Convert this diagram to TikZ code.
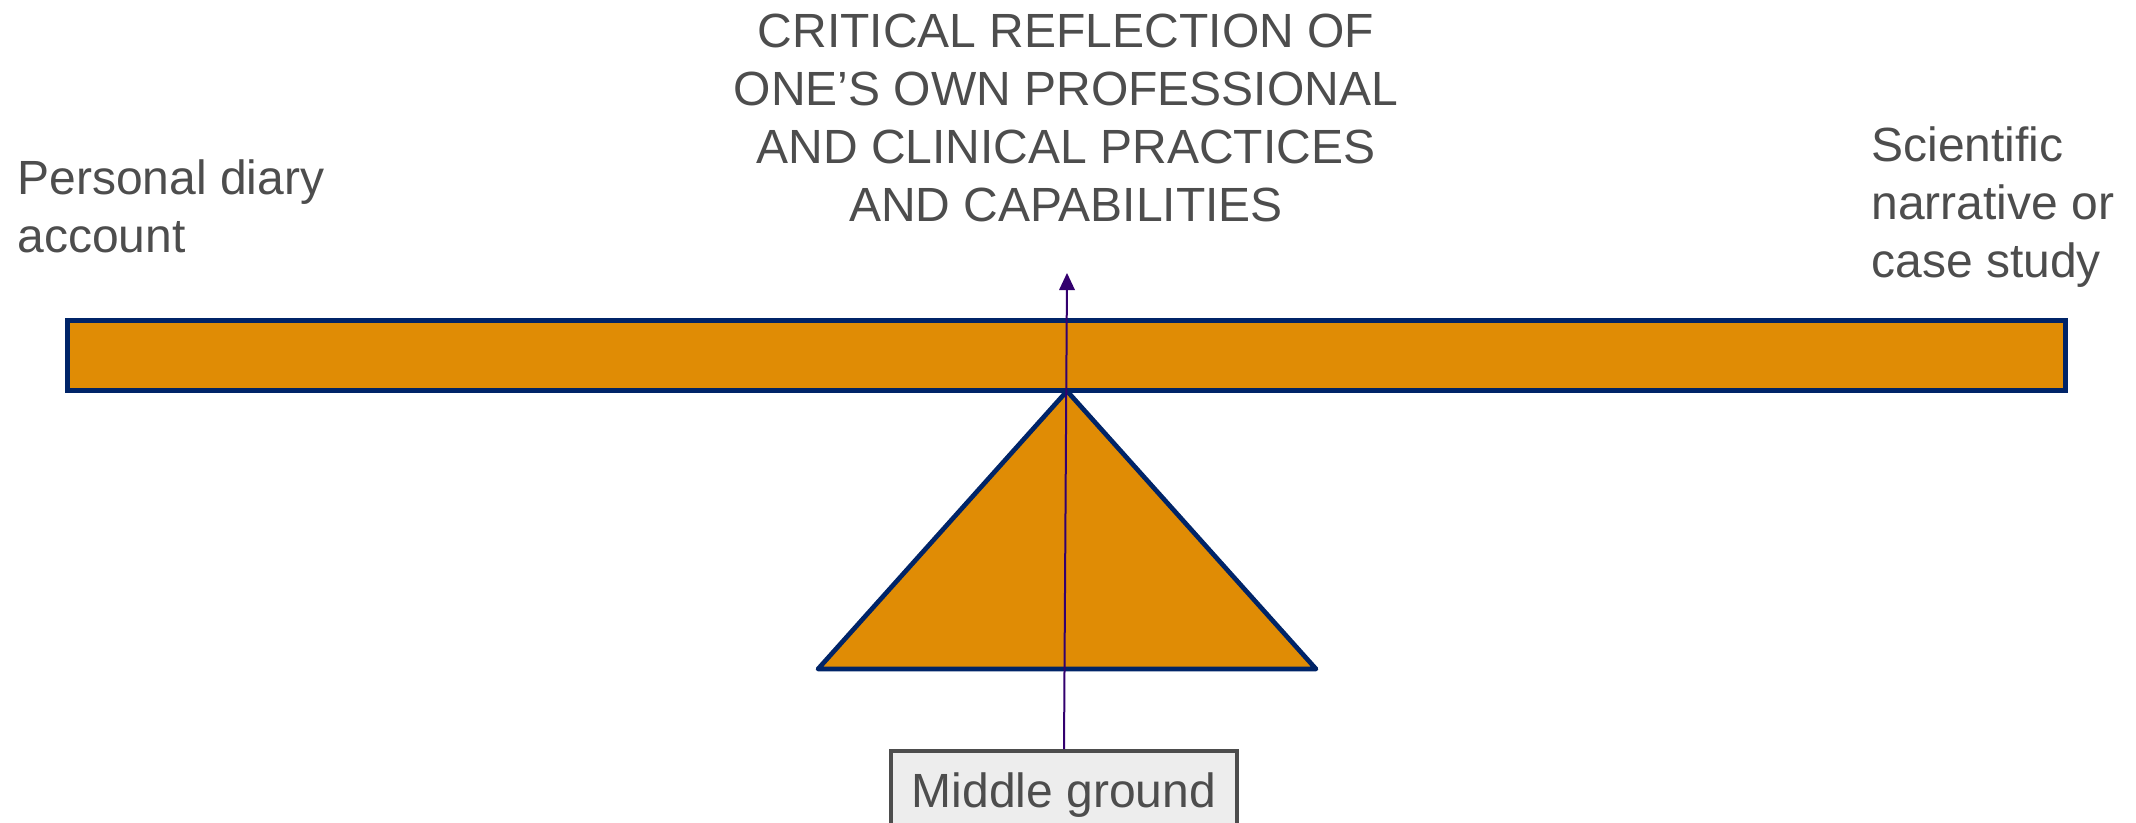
\documentclass[tikz,border=0pt]{standalone}
\usepackage{fontspec}
\setmainfont{Liberation Sans}
\definecolor{barfill}{RGB}{224,140,5}
\definecolor{barline}{RGB}{0,36,104}
\definecolor{arrowpurple}{RGB}{51,0,110}
\definecolor{labelgray}{RGB}{77,77,77}
\definecolor{boxfill}{RGB}{237,237,237}
\tikzset{every picture/.style={line width=0.75pt}}

\begin{document}
\begin{tikzpicture}[x=0.75pt,y=0.75pt,yscale=-1,xscale=1,
  lbl/.style={text=labelgray, inner sep=0pt, font=\fontsize{36}{43.5}\selectfont}]
\path [use as bounding box] (0,0) rectangle (2136,822); %set diagram to 2136 x 822

%Shape: Rectangle [beam]
\draw [barline, fill=barfill, line width=3.75] (67.5,320.5) -- (2065.5,320.5) -- (2065.5,390.5) -- (67.5,390.5) -- cycle ;
%Shape: Triangle [fulcrum]
\draw [barline, fill=barfill, line width=3.5, line join=round] (1067,391) -- (1316,669) -- (818,669) -- cycle ;

% Text Node
\node [lbl, anchor=north, draw=labelgray, fill=boxfill, line width=3, minimum width=259.5pt, text height=26pt, text depth=60pt, inner ysep=16pt] (mid) at (1064,749) {Middle ground};

%Straight Lines [arrow]
\coordinate (tip) at (1067,273);
\draw [arrowpurple, line width=1.5, shorten >=10] (mid.north) -- (tip) ;
\draw [shift={(tip)}, rotate = 90] [fill=arrowpurple][draw opacity=0] (17,-8) -- (0,0) -- (17,8) -- cycle ;

% Text Node (base = last line)
\node [lbl, anchor=base, align=center] (title) at (1066,221) {CRITICAL REFLECTION OF\\ONE’S OWN PROFESSIONAL\\AND CLINICAL PRACTICES\\AND CAPABILITIES};
% Text Node
\node [lbl, anchor=base west, align=left] (diary) at (17,252) {Personal diary\\account};
% Text Node
\node [lbl, anchor=base west, align=left] (science) at (1871,277) {Scientific\\narrative or\\case study};

\end{tikzpicture}
\end{document}
